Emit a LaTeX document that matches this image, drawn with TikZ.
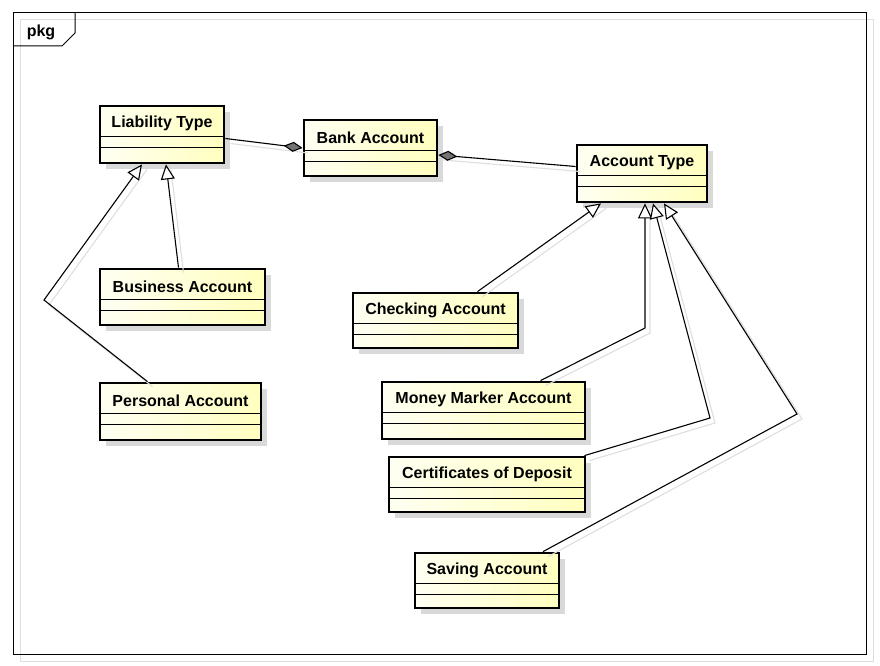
\documentclass[tikz,border=0pt]{standalone}
\usepackage{fontspec}
\setmainfont{Liberation Sans}
\usetikzlibrary{arrows.meta,shadows}

\tikzset{
  classbox/.style={draw=black, line width=2.8pt, left color=yellow!5, right color=yellow!25,
    drop shadow={shadow xshift=6pt, shadow yshift=-6pt, fill=black!15, opacity=1}},
  complines/.style={line width=1.2pt},
  classname/.style={font=\bfseries\fontsize{16}{18}\selectfont},
  conn/.style={line width=1.1pt},
  shadowline/.style={line width=1.1pt, draw=black!13},
  gen/.style={-{Triangle[fill=white, length=15pt, width=14pt]}},
  aggr/.style={-{Diamond[fill=black!55, length=19pt, width=10pt]}}
}

% connector with its light shadow
\newcommand\umlline[2]{%
  \draw[shadowline, transform canvas={xshift=5pt,yshift=-5pt}] #2;
  \draw[conn, #1] #2;}

\begin{document}
\begin{tikzpicture}[x=1pt,y=-1pt]
  \useasboundingbox (0,0) rectangle (880,666);

  % frame
  \draw[black!13, line width=1pt] (20,20) rectangle (873,661);
  \draw[line width=1pt] (13,13) rectangle (866,654);
  \draw[line width=1pt] (13,46) -- (62,46) -- (75,33) -- (75,13);
  \node[classname] (pkg) at (41,32) {pkg};

  % classes
  \foreach \n/\l/\t/\r/\b/\txt in {
      liab/100/106/224/163/Liability Type,
      bank/304/120/437/176/Bank Account,
      acct/577/145/707/202/Account Type,
      bus/100/269/265/325/Business Account,
      pers/100/383/261/440/Personal Account,
      check/353/293/518/348/Checking Account,
      money/382/382/585/439/Money Marker Account,
      cert/389/457/585/512/Certificates of Deposit,
      save/415/553/559/608/Saving Account}
  {
    \node[classbox, minimum width=\r-\l, minimum height=\b-\t] (\n) at ({(\l+\r)/2},{(\t+\b)/2}) {};
    \draw[complines] ({\l},{\t+30.5}) -- ({\r},{\t+30.5}) ({\l},{\t+41.5}) -- ({\r},{\t+41.5});
    \node[classname] at ({(\l+\r)/2},{\t+17.5}) {\txt};
  }

  % bends
  \coordinate (kpers) at (44,300);
  \coordinate (kmoney) at (645,328);
  \coordinate (kcert) at (710,418);
  \coordinate (ksave) at (797,414);

  % aggregations
  \umlline{aggr}{([yshift=-4pt]liab.east) -- (bank.west)}
  \umlline{aggr}{([yshift=7pt]acct.west) -- ([yshift=-7pt]bank.east)}

  % generalizations
  \umlline{gen}{([xshift=-4pt]bus.north) -- ([xshift=4pt]liab.south)}
  \umlline{gen}{([xshift=-33pt]pers.north) -- (kpers) -- ([xshift=-20pt]liab.south)}
  \umlline{gen}{([xshift=42pt]check.north) -- ([xshift=-41pt]acct.south)}
  \umlline{gen}{([xshift=57pt]money.north) -- (kmoney) -- (kmoney |- acct.south)}
  \umlline{gen}{([xshift=-2pt]cert.north east) -- (kcert) -- ([xshift=11pt]acct.south)}
  \umlline{gen}{([xshift=56pt]save.north) -- (ksave) -- ([xshift=22pt]acct.south)}
\end{tikzpicture}
\end{document}
